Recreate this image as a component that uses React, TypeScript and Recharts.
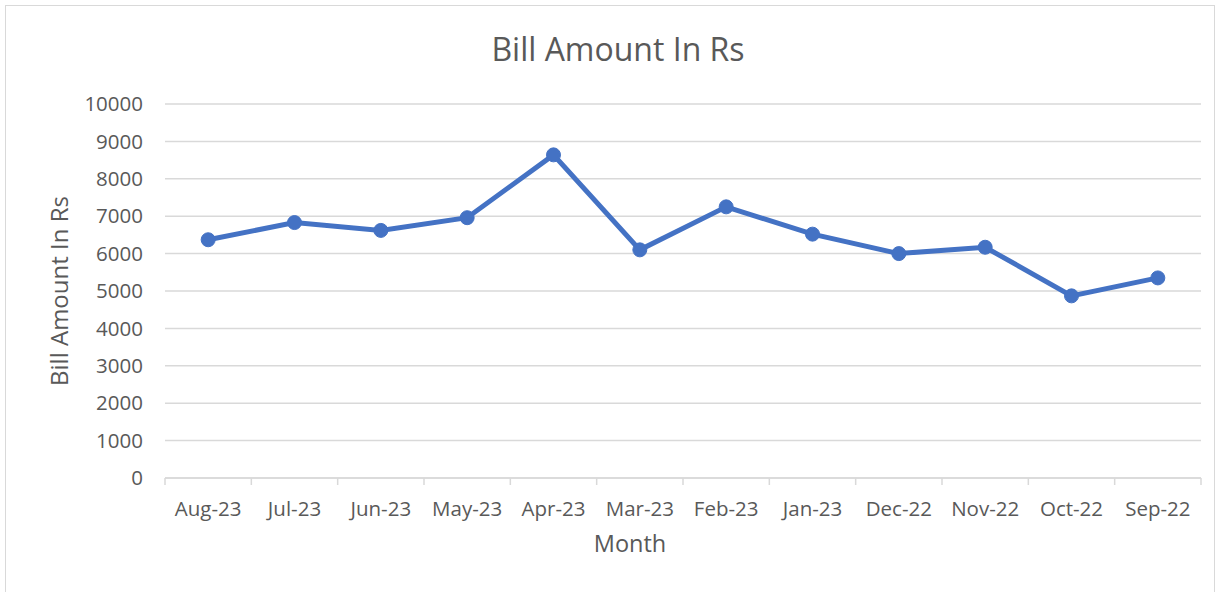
import React from "react";
import { LineChart, Line, XAxis, YAxis, CartesianGrid, Label } from "recharts";

const months = ["Aug-23", "Jul-23", "Jun-23", "May-23", "Apr-23", "Mar-23", "Feb-23", "Jan-23", "Dec-22", "Nov-22", "Oct-22", "Sep-22"];
const billAmounts = [6370, 6830, 6620, 6960, 8640, 6100, 7250, 6520, 6000, 6170, 4870, 5350];
const yTicks = [0, 1000, 2000, 3000, 4000, 5000, 6000, 7000, 8000, 9000, 10000];

const data = months.map((m, i) => ({ month: m, amount: billAmounts[i] }));

const FONT = "'Open Sans', Lato, sans-serif";
const TEXT = "#595959";
const GRID = "#D9D9D9";
const BLUE = "#4472C4";

const XTick = (props: any) => {
  const { x, y, payload, index, visibleTicksCount } = props;
  const half = payload && payload.offset ? payload.offset : 43.2;
  const isLast = index === visibleTicksCount - 1;
  return (
    <g>
      <line x1={x - half} y1={y} x2={x - half} y2={y + 7} stroke={GRID} strokeWidth={1.5} />
      {isLast && <line x1={x + half} y1={y} x2={x + half} y2={y + 7} stroke={GRID} strokeWidth={1.5} />}
      <text x={x} y={y + 38} textAnchor="middle" fill={TEXT} fontSize={20.5} fontFamily={FONT}>
        {payload.value}
      </text>
    </g>
  );
};

export default function App() {
  return (
    <div style={{ position: "absolute", left: 0, top: 0, width: 1221, height: 592, background: "#fff", overflow: "hidden" }}>
      <div style={{ position: "absolute", left: 5, top: 5, width: 1210, height: 600, border: "1.5px solid #D9D9D9", boxSizing: "border-box" }} />
      <div style={{ position: "absolute", left: 0, top: 0 }}>
        <LineChart width={1221} height={592} data={data} margin={{ top: 104, right: 20, bottom: 84, left: 85 }}>
          <CartesianGrid vertical={false} stroke={GRID} strokeWidth={1.5} />
          <XAxis
            dataKey="month"
            scale="band"
            interval={0}
            height={30}
            tickSize={0}
            tickMargin={0}
            axisLine={{ stroke: GRID, strokeWidth: 1.5 }}
            tickLine={false}
            tick={<XTick />}
          >
            <Label
              content={({ viewBox }: any) => (
                <text x={viewBox.x + viewBox.width / 2 - 53} y={viewBox.y + 74} textAnchor="middle" fill={TEXT} fontSize={23.5} fontFamily={FONT}>
                  Month
                </text>
              )}
            />
          </XAxis>
          <YAxis
            domain={[0, 10000]}
            ticks={yTicks}
            interval={0}
            width={80}
            axisLine={false}
            tickLine={false}
            tickSize={0}
            tickMargin={22}
            tick={{ fill: TEXT, fontSize: 20.5, fontFamily: FONT }}
          >
            <Label
              content={({ viewBox }: any) => {
                const cx = viewBox.x - 27;
                const cy = viewBox.y + viewBox.height / 2;
                return (
                  <g>
                    <text x={cx} y={cy} transform={`rotate(-90 ${cx} ${cy})`} textAnchor="middle" dominantBaseline="central" fill={TEXT} fontSize={24} fontFamily={FONT}>
                      Bill Amount In Rs
                    </text>
                    <text x={618} y={viewBox.y - 43} textAnchor="middle" fill={TEXT} fontSize={32} fontFamily={FONT}>
                      Bill Amount In Rs
                    </text>
                  </g>
                );
              }}
            />
          </YAxis>
          <Line
            type="linear"
            dataKey="amount"
            stroke={BLUE}
            strokeWidth={5}
            dot={{ r: 7, fill: BLUE, stroke: BLUE, strokeWidth: 1 }}
            activeDot={false}
            isAnimationActive={false}
          />
        </LineChart>
      </div>
    </div>
  );
}
